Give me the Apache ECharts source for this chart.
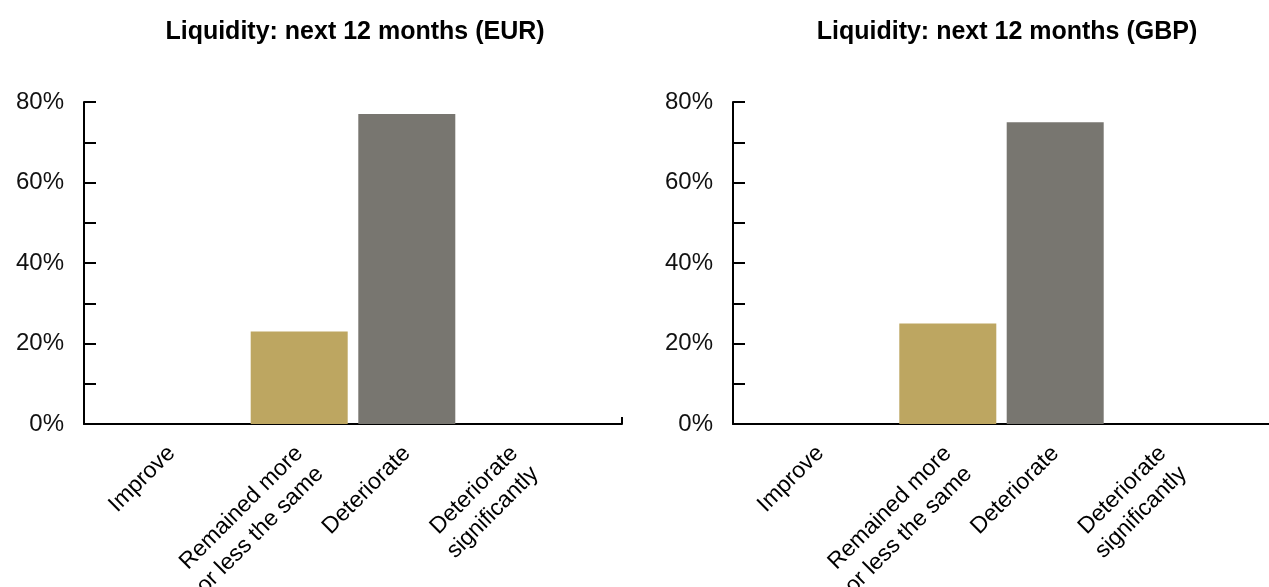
<!DOCTYPE html>
<html>
<head>
<meta charset="utf-8">
<script src="https://cdn.jsdelivr.net/npm/echarts@6/dist/echarts.min.js"></script>
<style>
  html, body { margin: 0; padding: 0; background: #fff; }
  #chart { width: 1269px; height: 587px; }
</style>
</head>
<body>
<div id="chart"></div>
<script>
const categories = ['Improve', 'Remained more\nor less the same', 'Deteriorate', 'Deteriorate\nsignificantly']
const titles = ['Liquidity: next 12 months (EUR)', 'Liquidity: next 12 months (GBP)']
const eurValues = [0, 23, 77, 0]
const gbpValues = [0, 25, 75, 0]
const barColors = ['#bda661', '#bda661', '#787670', '#787670']

const chart = echarts.init(document.getElementById('chart'))

const fontFamily = '"Liberation Sans", Arial, Helvetica, sans-serif'

// first line of a wrapped label sits on the tick, like the original;
// "Improve" sits a bit left of its slot in the original
const catLabel = (v) => {
  const name = categories[v]
  if (!name) return ''
  if (v === 0) return '{shift|' + name + '}\n'
  return name.indexOf('\n') >= 0 ? '\n' + name : name
}

const makeXAxis = (gridIndex) => ({
  type: 'value',
  gridIndex,
  min: -1,
  max: 4,
  interval: 1,
  splitLine: { show: false },
  axisLine: {
    onZero: false,
    lineStyle: { color: '#000', width: 2 },
    // small upward stub at the right end of the axis
    symbol: ['none', 'path://M0,0 L7,0 L7,2 L0,2 Z M14,1'],
    symbolSize: [14, 2]
  },
  axisTick: { show: false },
  axisLabel: {
    rotate: 45,
    margin: 26,
    color: '#000',
    fontSize: 23,
    fontFamily,
    lineHeight: 29,
    showMinLabel: false,
    showMaxLabel: false,
    formatter: catLabel,
    rich: {
      shift: { fontSize: 23, fontFamily, color: '#000', padding: [0, 14, 0, 0] }
    }
  }
})

const makeYAxis = (gridIndex) => ({
  type: 'value',
  gridIndex,
  min: 0,
  max: 80,
  interval: 10,
  splitLine: { show: false },
  axisLine: { show: true, onZero: false, lineStyle: { color: '#000', width: 2 } },
  axisTick: { show: true, inside: true, length: 12, lineStyle: { color: '#000', width: 2 } },
  axisLabel: {
    color: '#111',
    fontSize: 24,
    fontFamily,
    margin: 20,
    padding: [6, 0, 0, 0],
    formatter: (v) => (v % 20 === 0 ? v + '%' : '')
  }
})

const makeSeries = (idx, values) => ({
  type: 'bar',
  xAxisIndex: idx,
  yAxisIndex: idx,
  barWidth: 97,
  data: values.map((v, i) => ({
    value: [i, v],
    itemStyle: { color: barColors[i] }
  }))
})

const option = {
  animation: false,
  title: [
    {
      text: titles[0],
      left: 350,
      top: 15,
      textAlign: 'center',
      textStyle: { fontFamily, fontSize: 25, fontWeight: 'bold', color: '#000' }
    },
    {
      text: titles[1],
      left: 1002,
      top: 15,
      textAlign: 'center',
      textStyle: { fontFamily, fontSize: 25, fontWeight: 'bold', color: '#000' }
    }
  ],
  grid: [
    { left: 84, width: 538, top: 102, height: 322, outerBoundsMode: 'none' },
    { left: 733, width: 537, top: 102, height: 322, outerBoundsMode: 'none' }
  ],
  xAxis: [makeXAxis(0), makeXAxis(1)],
  yAxis: [makeYAxis(0), makeYAxis(1)],
  series: [makeSeries(0, eurValues), makeSeries(1, gbpValues)]
}

chart.setOption(option)
</script>
</body>
</html>
